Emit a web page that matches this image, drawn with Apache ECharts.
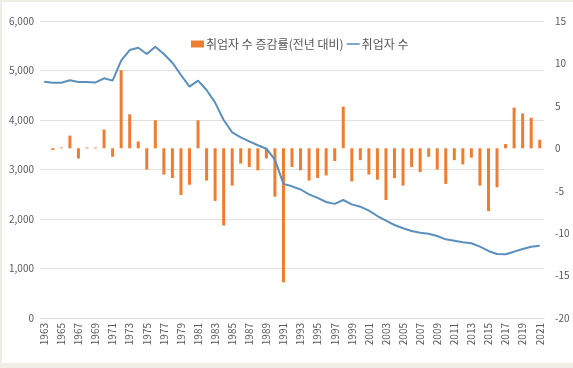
<!DOCTYPE html>
<html><head><meta charset="utf-8">
<script src="https://cdn.jsdelivr.net/npm/echarts@6/dist/echarts.min.js"></script>
<style>
html,body{margin:0;padding:0;background:#efeee6;}
#c{position:absolute;left:2px;top:2px;width:571px;height:361px;background:#fff;}
</style></head><body>
<div id="c"></div>
<script>
const years = [];
for (let y = 1963; y <= 2021; y++) years.push(String(y));
const employed = [4774,4754,4754,4802,4768,4768,4760,4842,4795,5198,5414,5461,5333,5481,5333,5158,4909,4673,4795,4606,
4350,4000,3750,3650,3570,3490,3420,3200,2710,2660,2596,2498,2428,2343,2306,2384,2296,2249,2170,2060,
1966,1879,1812,1758,1724,1703,1657,1589,1562,1529,1509,1441,1354,1293,1287,1340,1394,1441,1461];
const growth = [null,-0.2,0.1,1.5,-1.2,0.1,0.1,2.2,-1.0,9.2,4.0,0.8,-2.5,3.3,-3.1,-3.5,-5.5,-4.3,3.3,-3.8,
-6.2,-9.1,-4.4,-1.8,-2.2,-2.6,-1.2,-5.7,-15.8,-2.2,-2.6,-3.8,-3.5,-3.2,-1.5,4.9,-3.9,-1.4,-3.1,-3.7,
-6.1,-3.5,-4.4,-2.2,-2.8,-1.0,-2.5,-4.2,-1.4,-1.9,-1.1,-4.4,-7.4,-4.6,0.5,4.8,4.1,3.6,1.0];
const leftTicks = {min:0, max:6000, step:1000};
const rightTicks = {min:-20, max:15, step:5};
const barName = '취업자 수 증감률(전년 대비)';
const lineName = '취업자 수';

const font = 'Noto Sans CJK KR';
const chart = echarts.init(document.getElementById('c'));
chart.setOption({
  animation:false,
  textStyle:{fontFamily:font},
  legend:{
    left:184, top:31, itemGap:3, itemWidth:13, itemHeight:7,
    textStyle:{fontSize:12, color:'#595959', fontFamily:font, padding:[0,0,0,-3]},
    data:[{name:barName, icon:'rect'},{name:lineName, icon:'path://M0 0H20V2.4H0Z'}]
  },
  grid:{left:38, right:29, top:19, bottom:45},
  xAxis:{
    type:'category', data:years, boundaryGap:true,
    axisTick:{show:false},
    axisLine:{lineStyle:{color:'#d9d9d9'}},
    axisLabel:{interval:1, rotate:90, fontSize:10, color:'#595959', fontFamily:font, margin:5}
  },
  yAxis:[
    {type:'value', min:leftTicks.min, max:leftTicks.max, interval:leftTicks.step,
     axisLabel:{fontSize:10, color:'#595959', fontFamily:font, margin:6,
       formatter:v=>v.toLocaleString('en-US')},
     splitLine:{lineStyle:{color:'#e0e0e0'}}, axisLine:{show:false}, axisTick:{show:false}},
    {type:'value', min:rightTicks.min, max:rightTicks.max, interval:rightTicks.step,
     axisLabel:{fontSize:10, color:'#595959', fontFamily:font, margin:11},
     splitLine:{show:false}, axisLine:{show:false}, axisTick:{show:false}}
  ],
  series:[
    {name:barName, type:'bar', yAxisIndex:1, data:growth, barWidth:3,
     itemStyle:{color:'#ED7D31'}},
    {name:lineName, type:'line', yAxisIndex:0, data:employed, showSymbol:false, symbol:'none',
     lineStyle:{color:'#5b8fbc', width:2}, itemStyle:{color:'#5b8fbc'}}
  ]
});
</script>
</body></html>
